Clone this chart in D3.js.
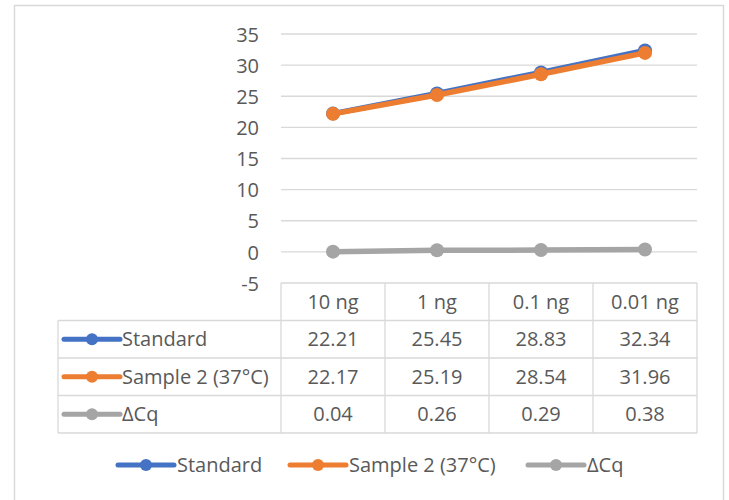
<!DOCTYPE html>
<html lang="en">
  <head>
    <meta charset="utf-8">
    <title>Cq standard vs sample</title>
    <script src="https://d3js.org/d3.v7.min.js"></script>
    <style>
      body { margin: 0; background: #fff; }
      text { font-family: "Open Sans", sans-serif; fill: #595959; }
    </style>
  </head>
  <body>
    <script type="text/javascript">
      var w = 729;
      var h = 500;

      // data
      var categories = ["10 ng", "1 ng", "0.1 ng", "0.01 ng"];
      var seriesNames = ["Standard", "Sample 2 (37°C)", "ΔCq"];
      var standard = [22.21, 25.45, 28.83, 32.34];
      var sample2 = [22.17, 25.19, 28.54, 31.96];
      var deltaCq = [0.04, 0.26, 0.29, 0.38];
      var yTicks = [-5, 0, 5, 10, 15, 20, 25, 30, 35];
      var colors = ["#4472C4", "#ED7D31", "#A5A5A5"];

      var series = [standard, sample2, deltaCq];

      var plot = {left: 281, right: 697, top: 34, bottom: 283};
      var rowH = 37.5;
      var tableLeft = 58;

      var xScale = d3.scaleBand()
                     .domain(categories)
                     .range([plot.left, plot.right]);
      var yScale = d3.scaleLinear()
                     .domain([-5, 35])
                     .range([plot.bottom, plot.top]);

      var svg = d3.select("body")
                  .append("svg")
                  .attr("width", w)
                  .attr("height", h);

      // chart frame
      svg.append("rect")
         .attr("x", 14.5).attr("y", 5.5)
         .attr("width", 709).attr("height", 510)
         .attr("fill", "none")
         .attr("stroke", "#d9d9d9")
         .attr("stroke-width", 1.5);

      // gridlines
      svg.selectAll("line.grid")
         .data(yTicks.filter(d => d > -5))
         .enter()
         .append("line")
         .attr("class", "grid")
         .attr("x1", plot.left)
         .attr("x2", plot.right)
         .attr("y1", d => yScale(d))
         .attr("y2", d => yScale(d))
         .attr("stroke", "#d9d9d9")
         .attr("stroke-width", 1.3);

      // y labels (plain hyphen for the negative tick, like Excel)
      var yAxis = d3.axisLeft(yScale)
                    .tickValues(yTicks)
                    .tickFormat(d => String(d))
                    .tickSize(0)
                    .tickPadding(0);
      var gy = svg.append("g")
                  .attr("transform", "translate(259,0)")
                  .call(yAxis);
      gy.select(".domain").remove();
      gy.selectAll("text")
        .attr("font-size", 20)
        .attr("font-family", null)
        .attr("fill", null)
        .attr("dy", "0.36em");

      // data table grid
      var tableBottom = plot.bottom + rowH * (series.length + 1);
      var tg = svg.append("g")
                  .attr("stroke", "#d9d9d9")
                  .attr("stroke-width", 1.3);
      // verticals
      var vx = categories.map(c => xScale(c)).concat([plot.right]);
      vx.forEach(function (x) {
        tg.append("line")
          .attr("x1", x).attr("x2", x)
          .attr("y1", plot.bottom).attr("y2", tableBottom);
      });
      tg.append("line")
        .attr("x1", tableLeft).attr("x2", tableLeft)
        .attr("y1", plot.bottom + rowH).attr("y2", tableBottom);
      // horizontals
      tg.append("line")
        .attr("x1", plot.left).attr("x2", plot.right)
        .attr("y1", plot.bottom).attr("y2", plot.bottom);
      for (var i = 1; i <= series.length + 1; i++) {
        tg.append("line")
          .attr("x1", tableLeft).attr("x2", plot.right)
          .attr("y1", plot.bottom + rowH * i)
          .attr("y2", plot.bottom + rowH * i);
      }

      // header labels
      svg.selectAll("text.head")
         .data(categories)
         .enter()
         .append("text")
         .attr("class", "head")
         .attr("x", d => xScale(d) + xScale.bandwidth() / 2)
         .attr("y", plot.bottom + rowH / 2)
         .attr("dy", "0.36em")
         .attr("text-anchor", "middle")
         .attr("font-size", 20)
         .text(d => d);

      function symbol(g, x, y, color) {
        g.append("line")
         .attr("x1", x).attr("x2", x + 56)
         .attr("y1", y).attr("y2", y)
         .attr("stroke", color)
         .attr("stroke-width", 5)
         .attr("stroke-linecap", "round");
        g.append("circle")
         .attr("cx", x + 28).attr("cy", y)
         .attr("r", 6)
         .attr("fill", color);
      }

      // table rows
      series.forEach(function (vals, si) {
        var cy = plot.bottom + rowH * (si + 1.5);
        symbol(svg, 64, cy, colors[si]);
        svg.append("text")
           .attr("x", 122)
           .attr("y", cy)
           .attr("dy", "0.36em")
           .attr("font-size", 20)
           .text(seriesNames[si]);
        svg.selectAll("text.val" + si)
           .data(vals)
           .enter()
           .append("text")
           .attr("class", "val" + si)
           .attr("x", (d, j) => xScale(categories[j]) + xScale.bandwidth() / 2)
           .attr("y", cy)
           .attr("dy", "0.36em")
           .attr("text-anchor", "middle")
           .attr("font-size", 20)
           .text(d => d.toFixed(2));
      });

      // lines + markers
      var line = d3.line()
                   .x((d, j) => xScale(categories[j]) + xScale.bandwidth() / 2)
                   .y(d => yScale(d));
      series.forEach(function (vals, si) {
        svg.append("path")
           .datum(vals)
           .attr("d", line)
           .attr("fill", "none")
           .attr("stroke", colors[si])
           .attr("stroke-width", 5.5)
           .attr("stroke-linejoin", "round");
        svg.selectAll("circle.pt" + si)
           .data(vals)
           .enter()
           .append("circle")
           .attr("class", "pt" + si)
           .attr("cx", (d, j) => xScale(categories[j]) + xScale.bandwidth() / 2)
           .attr("cy", d => yScale(d))
           .attr("r", 7)
           .attr("fill", colors[si]);
      });

      // legend
      var legendX = [118, 290, 528];
      seriesNames.forEach(function (name, si) {
        symbol(svg, legendX[si], 465, colors[si]);
        svg.append("text")
           .attr("x", legendX[si] + 59)
           .attr("y", 465)
           .attr("dy", "0.36em")
           .attr("font-size", 20)
           .text(name);
      });
    </script>
  </body>
</html>
